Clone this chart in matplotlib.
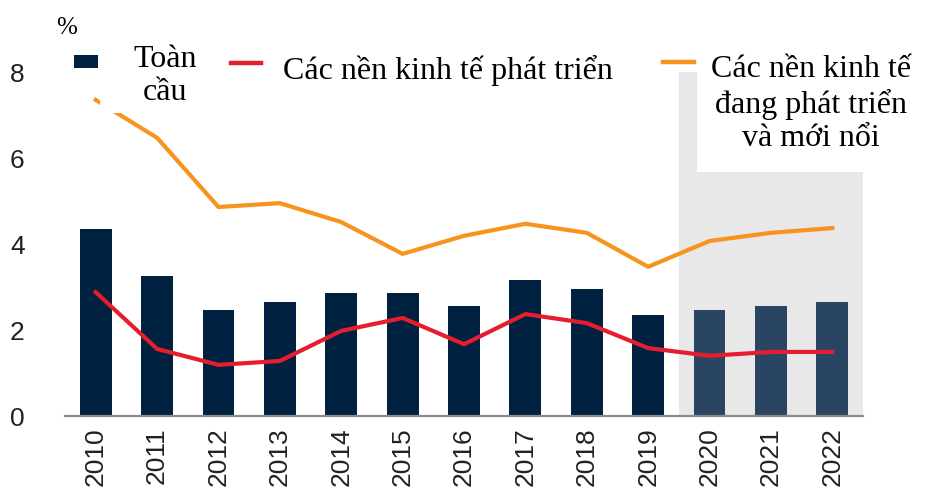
import matplotlib.pyplot as plt
from matplotlib.patches import Rectangle
from matplotlib.lines import Line2D
import numpy as np

years = ['2010', '2011', '2012', '2013', '2014', '2015', '2016',
         '2017', '2018', '2019', '2020', '2021', '2022']
global_growth = [4.35, 3.26, 2.47, 2.65, 2.86, 2.86, 2.56, 3.16, 2.95, 2.35, 2.47, 2.56, 2.65]
advanced = [2.88, 1.56, 1.19, 1.28, 1.98, 2.28, 1.67, 2.37, 2.16, 1.58, 1.40, 1.49, 1.49]
emerging = [7.35, 6.47, 4.86, 4.95, 4.51, 3.77, 4.19, 4.47, 4.26, 3.47, 4.07, 4.26, 4.37]
yticks = [0, 2, 4, 6, 8]
n_forecast = 3

navy = '#00213f'
navy_fc = '#2a4561'
red = '#e41e2f'
orange = '#f7941d'
serif = 'Liberation Serif'
sans = 'Liberation Sans'

W, H = 926, 500
fig = plt.figure(figsize=(W / 100, H / 100), dpi=100)
ax = fig.add_axes([65 / W, 1 - 416 / H, (863 - 65) / W, (416 - 50.5) / H])

x = np.arange(len(years))
n_hist = len(years) - n_forecast

ax.axvspan(n_hist - 0.5, len(years) - 0.5, ymin=0, ymax=8 / 8.5, color='#e8e8e8', lw=0, zorder=0)
colors = [navy] * n_hist + [navy_fc] * n_forecast
ax.bar(x, global_growth, width=0.52, color=colors, zorder=2)
ax.plot(x, advanced, color=red, lw=3, zorder=3)
ax.plot(x, emerging, color=orange, lw=3, zorder=3)

ax.set_xlim(-0.5, len(years) - 0.5)
ax.set_ylim(0, 8.5)
ax.set_yticks(yticks)
ax.set_yticklabels([str(v) for v in yticks], fontfamily=sans, fontsize=19, color='#222222')
ax.set_xticks(x)
ax.set_xticklabels(years, rotation=90, fontfamily=sans, fontsize=19, color='#222222')
ax.tick_params(length=0, pad=8)
ax.tick_params(axis='y', pad=29)
for s in ['top', 'right', 'left']:
    ax.spines[s].set_visible(False)
ax.spines['bottom'].set_color('#8c8c8c')
ax.spines['bottom'].set_linewidth(1.6)
ax.spines['bottom'].set_zorder(4)


def px(xp, yp):
    return xp / W, 1 - yp / H


def white_box(x0, y0, x1, y1):
    fig.add_artist(Rectangle(px(x0, y1), (x1 - x0) / W, (y1 - y0) / H,
                             transform=fig.transFigure, facecolor='white',
                             edgecolor='none', zorder=5))


fig.text(*px(67, 28), '%', fontfamily=serif, fontsize=18, ha='center', va='center')

# legend
fig.add_artist(Rectangle(px(74, 68), 24 / W, 13 / H, transform=fig.transFigure,
                         facecolor=navy, edgecolor='none', zorder=6))
white_box(100, 38, 228, 113)
fig.text(*px(165, 76), 'Toàn\ncầu', fontfamily=serif, fontsize=23, ha='center',
         va='center', linespacing=1.15, zorder=7)

fig.add_artist(Line2D([231 / W, 261 / W], [1 - 63 / H] * 2, transform=fig.transFigure,
                      color=red, lw=3.2, zorder=6))
white_box(262, 45, 620, 95)
fig.text(*px(448, 70), 'Các nền kinh tế phát triển', fontfamily=serif, fontsize=23,
         ha='center', va='center', zorder=7)

fig.add_artist(Line2D([663 / W, 694 / W], [1 - 62 / H] * 2, transform=fig.transFigure,
                      color=orange, lw=3.2, zorder=6))
white_box(697, 48, 926, 172)
fig.text(*px(811, 104), 'Các nền kinh tế\nđang phát triển\nvà mới nổi', fontfamily=serif,
         fontsize=23, ha='center', va='center', linespacing=1.2, zorder=7)

fig.savefig('out.png', dpi=100)
